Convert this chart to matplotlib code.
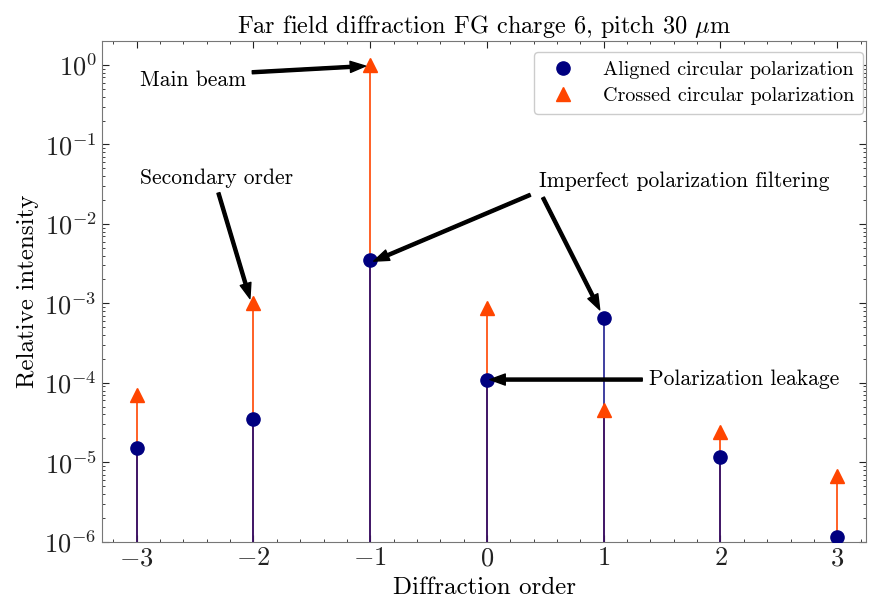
import matplotlib
matplotlib.use("Agg")
import matplotlib.pyplot as plt
from matplotlib.ticker import AutoMinorLocator

# === datos ===
orders = [-3, -2, -1, 0, 1, 2, 3]
aligned = [1.5e-5, 3.5e-5, 3.5e-3, 1.1e-4, 6.6e-4, 1.17e-5, 1.16e-6]
crossed = [7.0e-5, 1.0e-3, 1.0, 8.8e-4, 4.5e-5, 2.4e-5, 6.8e-6]

plt.rcParams.update({
    "font.family": "serif", "font.serif": ["cmr10"], "mathtext.fontset": "cm",
    "axes.formatter.use_mathtext": True, "axes.unicode_minus": True,
})

fig, ax = plt.subplots(figsize=(8.69, 6.04), dpi=100)
fig.subplots_adjust(left=0.117, right=0.997, bottom=0.103, top=0.932)

ax.vlines(orders, 1e-7, crossed, color="#ff4500", lw=1.4, alpha=0.85, zorder=2)
ax.vlines(orders, 1e-7, aligned, color="#000080", lw=1.4, alpha=0.75, zorder=3)
ax.plot(orders, aligned, "o", color="#000080", ms=9.5, ls="none", zorder=4,
        label="Aligned circular polarization")
ax.plot(orders, crossed, "^", color="#ff4500", ms=9.5, ls="none", zorder=4,
        label="Crossed circular polarization")

ax.set_yscale("log")
ax.set_ylim(1e-6, 2)
ax.set_xlim(-3.3, 3.25)
ax.xaxis.set_minor_locator(AutoMinorLocator(5))
ax.tick_params(which="both", direction="in", top=True, right=True, labelsize=19, colors="#222222")
ax.tick_params(which="major", length=5)
ax.tick_params(which="minor", length=2.5)
for s in ax.spines.values():
    s.set_color("#777777")

ax.set_title(r"Far field diffraction FG charge 6, pitch 30 $\mu$m", fontsize=17.5, pad=6)
ax.set_xlabel("Diffraction order", fontsize=18, labelpad=5)
ax.set_ylabel("Relative intensity", fontsize=18, labelpad=4)

# anotaciones
arr = dict(facecolor="black", edgecolor="black", width=2.2, headwidth=8, headlength=11, shrink=0.0)
notes = [("Main beam", (-2.97, 0.65), [((-1.04, 0.97), (-2.01, 0.81))]),
         ("Secondary order", (-2.97, 0.038), [((-2.03, 1.15e-3), (-2.30, 0.0245))]),
         ("Imperfect polarization filtering", (0.45, 0.034),
          [((-0.97, 3.4e-3), (0.37, 0.0232)), ((0.966, 8.3e-4), (0.48, 0.0214))]),
         ("Polarization leakage", (1.39, 1.1e-4), [((0.026, 1.1e-4), (1.33, 1.1e-4))])]
for txt, pos, arrows in notes:
    ax.text(pos[0], pos[1], txt, fontsize=15.5, ha="left", va="center")
    for tip, start in arrows:
        ax.annotate("", xy=tip, xytext=start, arrowprops=arr, zorder=6)

ax.legend(loc="upper right", fontsize=14.5, handletextpad=1.0, borderpad=0.45,
          labelspacing=0.4, framealpha=1, edgecolor="#cccccc", borderaxespad=0,
          bbox_to_anchor=(0.996, 0.978))

fig.savefig("out.png", dpi=100)
